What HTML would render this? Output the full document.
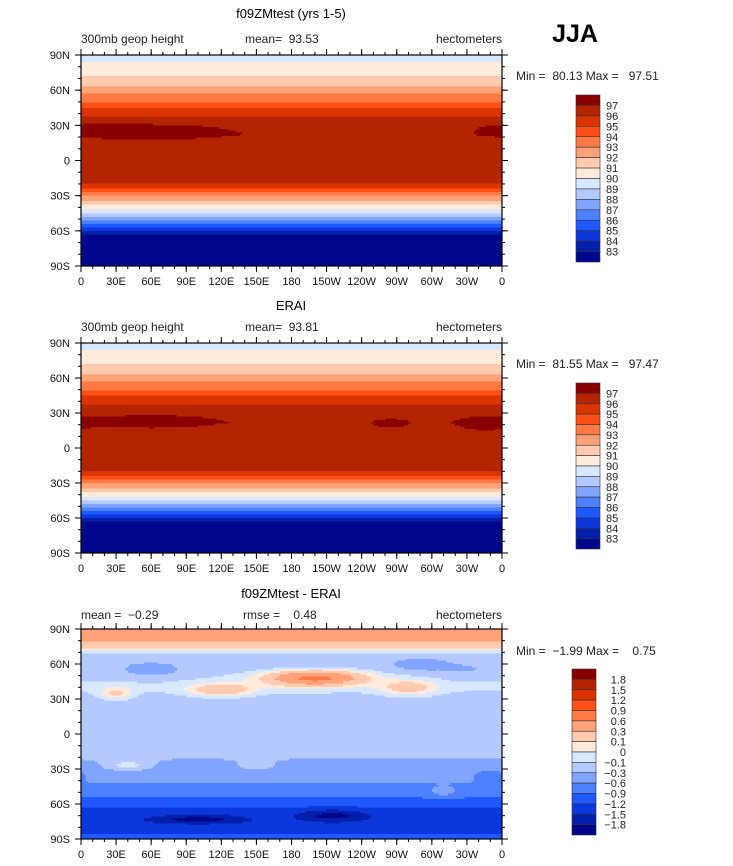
<!DOCTYPE html>
<html><head><meta charset="utf-8">
<style>
body{margin:0;background:#fff;}
svg{display:block;font-family:"Liberation Sans",sans-serif;}
text{white-space:pre;}
</style></head>
<body>
<svg id="fig" width="733" height="866" viewBox="0 0 733 866" xmlns="http://www.w3.org/2000/svg">
<text x="575" y="42" font-size="25" font-weight="bold" text-anchor="middle">JJA</text>
</svg>
<script>
// ---- data ----
const levels1 = [83,84,85,86,87,88,89,90,91,92,93,94,95,96,97];
const levels3 = [-1.8,-1.5,-1.2,-0.9,-0.6,-0.3,-0.1,0,0.1,0.3,0.6,0.9,1.2,1.5,1.8];
const colors = ["#00068c","#0320ad","#0a38dc","#1f58ff","#4c80ff","#80a4ff","#b3c9ff","#d8e8ff","#ffeadb","#ffcab0","#ffa27a","#ff7a44","#ff4e16","#dc3400","#b52400","#890000"];
const xTickLabels = ["0","30E","60E","90E","120E","150E","180","150W","120W","90W","60W","30W","0"];
const yTickLabels = ["90N","60N","30N","0","30S","60S","90S"];

const p1Lats = [90,84,72,63,57,50,45,38,30,22,10,-20,-24,-27,-30,-34,-38,-42,-45,-48,-51,-54,-57,-60,-63,-90];
const p1Vals = [89.5,90,91,92,93,94,95,96,96.8,96.9,96.5,96,95,94,93,92,91,90,89,88,87,86,85,84,83,80];
const p1Blobs = [[60,24,70,8,0.5],[20,28,40,6,0.3]];

const p2Lats = [90,84,72,63,57,50,45,38,30,22,10,-20,-24,-27,-30,-34,-38,-42,-45,-48,-51,-54,-57,-60,-63,-90];
const p2Vals = [89.5,90,91,92,93,94,95,96,96.8,96.9,96.5,96,95,94,93,92,91,90,89,88,87,86,85,84,83,81];
const p2Blobs = [[60,22,60,7,0.45],[345,20,25,7,0.5],[265,20,20,6,0.3]];

const p3Lats = [90,80,73,68,60,50,40,30,20,0,-20,-30,-40,-50,-58,-65,-75,-90];
const p3Vals = [0.4,0.35,0.05,-0.12,-0.2,-0.12,-0.08,-0.15,-0.2,-0.2,-0.28,-0.4,-0.55,-0.8,-1.0,-1.3,-1.4,-1.1];
const p3Blobs = [[200,48,45,7,0.8],[120,38,30,6,0.35],[280,40,25,7,0.3],[30,35,15,6,0.25],[100,-73,40,4,-0.6],[215,-70,30,5,-0.6],[60,55,25,6,-0.35],[290,60,25,6,-0.3],[330,55,30,6,-0.15],[40,-27,20,5,0.35],[150,-27,15,5,0.2],[310,-50,15,5,0.3],[245,-30,25,6,-0.15],[350,-35,15,6,-0.3]];

const panels = [
 {top:55,bottom:266,title:"f09ZMtest (yrs 1-5)",titleY:18,subY:43,left:"300mb geop height",mid:"mean=  93.53",midX:245,right:"hectometers",mm:"Min =  80.13 Max =   97.51",mmY:80,lats:p1Lats,vals:p1Vals,blobs:p1Blobs,levels:levels1,cbTop:95,cbBot:262,cbX:576,lbX:606,anchor:"start"},
 {top:343,bottom:553,title:"ERAI",titleY:310,subY:331,left:"300mb geop height",mid:"mean=  93.81",midX:245,right:"hectometers",mm:"Min =  81.55 Max =   97.47",mmY:368,lats:p2Lats,vals:p2Vals,blobs:p2Blobs,levels:levels1,cbTop:383,cbBot:549,cbX:576,lbX:606,anchor:"start"},
 {top:629,bottom:839,title:"f09ZMtest - ERAI",titleY:598,subY:619,left:"mean =  \u22120.29",mid:"rmse =    0.48",midX:243,right:"hectometers",mm:"Min =  \u22121.99 Max =    0.75",mmY:655,lats:p3Lats,vals:p3Vals,blobs:p3Blobs,levels:levels3,cbTop:669,cbBot:835,cbX:572,lbX:626,anchor:"end"}
];

// ---- drawing ----
const NS="http://www.w3.org/2000/svg";
const svg=document.getElementById('fig');
const L=81,R=502;
function el(tag,attrs,parent){const e=document.createElementNS(NS,tag);for(const k in attrs)e.setAttribute(k,attrs[k]);(parent||svg).appendChild(e);return e;}
function interp(lats,vals,lat){for(let i=0;i<lats.length-1;i++){if(lat<=lats[i]&&lat>=lats[i+1]){const t=(lats[i]-lat)/(lats[i]-lats[i+1]);return vals[i]+t*(vals[i+1]-vals[i]);}}return vals[vals.length-1];}
function field(p,lon,lat){let v=interp(p.lats,p.vals,lat);for(const b of p.blobs){let d=Math.abs(lon-b[0]);if(d>180)d=360-d;const r=(d/b[2])**2+((lat-b[1])/b[3])**2;v+=b[4]*Math.exp(-r*1.2);}return v;}
function colorOf(levels,v){let i=0;while(i<levels.length&&v>=levels[i])i++;return colors[i];}

panels.forEach((p,pi)=>{
  const g=el('g',{});
  
  
  const xs=lon=>L+(lon/360)*(R-L);
  const ys=lat=>p.top+((90-lat)/180)*(p.bottom-p.top);
  const dLon=2,dLat=1.5;
  const cg=el('g',{'shape-rendering':'crispEdges'},g);
  
  
  for(let lat=90;lat>-90;lat-=dLat){
    const lc=lat-dLat/2;let start=0,cur=null;
    for(let lon=0;lon<=360;lon+=dLon){
      const c=lon<360?colorOf(p.levels,field(p,lon+dLon/2,lc)):null;
      if(c!==cur){ if(cur){const r=el('rect',{x:xs(start),y:ys(lat),width:xs(lon)-xs(start)+0.5,height:ys(lat-dLat)-ys(lat)+0.5,fill:cur},cg);} cur=c;start=lon;}
    }
  }
  const fr=el('rect',{x:L,y:p.top,width:R-L,height:p.bottom-p.top,fill:'none',stroke:'#000','stroke-width':1.2},g);
  
  xTickLabels.forEach((t,i)=>{
    const x=L+i*(R-L)/12;
    el('line',{x1:x,x2:x,y1:p.bottom,y2:p.bottom+6,stroke:'#000'},g);
    el('line',{x1:x,x2:x,y1:p.top,y2:p.top-6,stroke:'#000'},g);
    const tx=el('text',{x:x,y:p.bottom+19,'font-size':11,'text-anchor':'middle',fill:'#111'},g);tx.textContent=t;
    
  });
  for(let i=0;i<36;i++){const x=L+i*(R-L)/36;el('line',{x1:x,x2:x,y1:p.bottom,y2:p.bottom+3,stroke:'#000'},g);el('line',{x1:x,x2:x,y1:p.top,y2:p.top-3,stroke:'#000'},g);}
  yTickLabels.forEach((t,i)=>{
    const y=p.top+i*(p.bottom-p.top)/6;
    el('line',{x1:L,x2:L-6,y1:y,y2:y,stroke:'#000'},g);
    el('line',{x1:R,x2:R+6,y1:y,y2:y,stroke:'#000'},g);
    const ty=el('text',{x:70,y:y+4,'font-size':11,'text-anchor':'end',fill:'#111'},g);ty.textContent=t;
    
  });
  for(let i=0;i<18;i++){const y=p.top+i*(p.bottom-p.top)/18;el('line',{x1:L,x2:L-3,y1:y,y2:y,stroke:'#000'},g);el('line',{x1:R,x2:R+3,y1:y,y2:y,stroke:'#000'},g);}
  const tt=el('text',{x:291,y:p.titleY,'font-size':13,'text-anchor':'middle'},g);tt.textContent=p.title;
  
  const s1=el('text',{x:L,y:p.subY,'font-size':12,fill:'#222'},g);s1.textContent=p.left;
  
  const s2=el('text',{x:p.midX,y:p.subY,'font-size':12,fill:'#222'},g);s2.textContent=p.mid;
  
  const s3=el('text',{x:R,y:p.subY,'font-size':12,'text-anchor':'end',fill:'#222'},g);s3.textContent=p.right;
  
  const mm=el('text',{x:516,y:p.mmY,'font-size':12,fill:'#222'},g);mm.textContent=p.mm;
  
  const cb=el('g',{},g);
  const n=colors.length,h=(p.cbBot-p.cbTop)/n;
  for(let i=0;i<n;i++){
    const r=el('rect',{x:p.cbX,y:p.cbTop+i*h,width:24,height:h,fill:colors[n-1-i],stroke:'#333','stroke-width':0.6},cb);
    
  }
  for(let i=0;i<p.levels.length;i++){
    const y=p.cbTop+(i+1)*h;
    const lv=p.levels[p.levels.length-1-i];
    const t=el('text',{x:p.lbX,y:y+4,'font-size':11,'text-anchor':p.anchor,fill:'#222'},cb);
    t.textContent=String(lv).replace('-','\u2212');
    
  }
});
</script>
</body></html>
